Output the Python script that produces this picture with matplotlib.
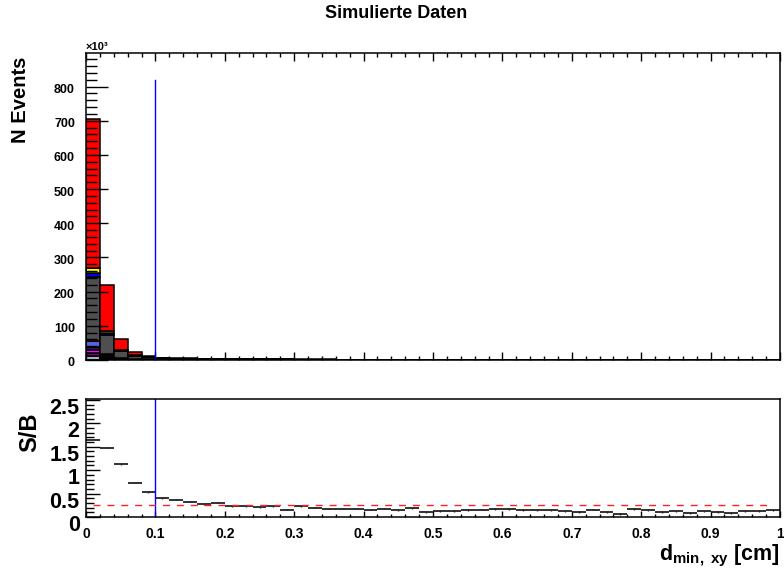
import matplotlib
matplotlib.use("Agg")
import matplotlib.pyplot as plt
import matplotlib.transforms as mtransforms
from matplotlib.ticker import MultipleLocator, FuncFormatter
import numpy as np

plt.rcParams["font.family"] = ["Liberation Sans", "DejaVu Sans"]
plt.rcParams["font.weight"] = "bold"
plt.rcParams["mathtext.fontset"] = "custom"
plt.rcParams["mathtext.rm"] = "Liberation Sans:bold"
plt.rcParams["mathtext.it"] = "Liberation Sans:bold"

# 50 bins of 0.02 cm from 0 to 1
bin_edges = [i * 0.02 for i in range(51)]

# stacked components in thousands of events, bottom to top
comp_teal = [12, 4, 2, 1, 0.5] + [0] * 45
comp_purple = [8, 3, 1, 0.5, 0.3] + [0] * 45
comp_magenta = [9, 3, 1, 0.5, 0.3] + [0] * 45
comp_navy = [10, 5, 2, 1, 0.5] + [0] * 45
comp_slate = [18, 2, 1, 0.5, 0.3] + [0] * 45
comp_gray = [185, 57, 19, 8, 5.5,
             5.0, 4.0, 3.3, 2.8, 2.2, 2.0, 1.8, 1.7, 1.6, 1.5,
             1.4, 1.3, 1.25, 1.2, 1.15, 1.1, 1.05, 1.0, 0.95, 0.9,
             0.9, 0.85, 0.8, 0.8, 0.75, 0.75, 0.7, 0.7, 0.68, 0.66,
             0.64, 0.62, 0.6, 0.6, 0.58, 0.56, 0.55, 0.54, 0.52, 0.5,
             0.5, 0.48, 0.47, 0.46, 0.45]
comp_blue = [12, 4, 1, 0.5, 0.3] + [0] * 45
comp_yellow = [14, 7, 3, 1.5, 0.7] + [0] * 45
comp_red = [437, 133, 32, 10, 4.5,
            2.1, 1.5, 1.1, 0.75, 0.65, 0.45, 0.42, 0.36, 0.36, 0.24,
            0.32, 0.26, 0.23, 0.22, 0.21, 0.18, 0.19, 0.15, 0.19, 0.10,
            0.12, 0.12, 0.13, 0.13, 0.14, 0.14, 0.12, 0.11, 0.11, 0.09,
            0.08, 0.11, 0.07, 0.04, 0.11, 0.09, 0.07, 0.07, 0.05, 0.07,
            0.06, 0.05, 0.07, 0.07, 0.07]

components = [comp_teal, comp_purple, comp_magenta, comp_navy, comp_slate,
              comp_gray, comp_blue, comp_yellow, comp_red]
colors = ["#9fb8b4", "#990099", "#ff00ff", "#1c1c5c", "#5f5fe0",
          "#4f4f4f", "#0000ff", "#ffff00", "#ff0000"]

# signal over background per bin
sb_ratio = [1.64, 1.48, 1.125, 0.736, 0.524, 0.40, 0.37, 0.33, 0.27, 0.30,
            0.23, 0.23, 0.21, 0.23, 0.16, 0.23, 0.20, 0.18, 0.18, 0.18,
            0.16, 0.18, 0.14, 0.19, 0.10, 0.13, 0.13, 0.15, 0.16, 0.17,
            0.17, 0.15, 0.14, 0.14, 0.12, 0.11, 0.16, 0.11, 0.06, 0.17,
            0.14, 0.11, 0.12, 0.085, 0.12, 0.11, 0.085, 0.13, 0.13, 0.15]
sb_err = [0.004, 0.005, 0.006, 0.008, 0.008, 0.008, 0.009, 0.009, 0.009, 0.01,
          0.01, 0.01, 0.01, 0.01, 0.01, 0.01, 0.01, 0.01, 0.012, 0.012,
          0.012, 0.012, 0.012, 0.012, 0.012, 0.013, 0.013, 0.013, 0.013, 0.013,
          0.014, 0.014, 0.014, 0.014, 0.014, 0.015, 0.015, 0.015, 0.015, 0.015,
          0.016, 0.016, 0.016, 0.016, 0.016, 0.017, 0.017, 0.017, 0.017, 0.017]

cut_value = 0.1
cut_line_top = 818
sb_threshold = 0.26

left_edges = np.array(bin_edges[:-1])
width = 0.02
centers = left_edges + width / 2

fig = plt.figure(figsize=(7.84, 5.74), dpi=100)
ax_top = fig.add_axes([86 / 784, 1 - 360 / 574, 694 / 784, 307 / 574])
ax_bot = fig.add_axes([86 / 784, 1 - 517 / 574, 694 / 784, 118 / 574])

bottom = np.zeros(len(left_edges))
for values, color in zip(components, colors):
    values = np.array(values, dtype=float)
    ax_top.bar(left_edges, values, width=width, bottom=bottom, align="edge",
               color=color, edgecolor="black", linewidth=1.1, zorder=1)
    bottom += values

ax_top.plot([cut_value, cut_value], [0, cut_line_top], color="blue", lw=1, zorder=2)
ax_top.set_xlim(0, 1)
ax_top.set_ylim(0, 898)
ax_top.xaxis.set_major_locator(MultipleLocator(0.1))
ax_top.xaxis.set_minor_locator(MultipleLocator(0.02))
ax_top.yaxis.set_major_locator(MultipleLocator(100))
ax_top.yaxis.set_minor_locator(MultipleLocator(20))
ax_top.tick_params(axis="x", which="both", direction="in", top=True, bottom=True,
                   labelbottom=False)
ax_top.tick_params(axis="x", which="major", length=5.5, width=1)
ax_top.tick_params(axis="x", which="minor", length=2.8, width=1)
ax_top.tick_params(axis="y", which="both", direction="in", left=True, right=False,
                   labelsize=9, pad=8)
ax_top.tick_params(axis="y", which="major", length=15.8, width=1)
ax_top.tick_params(axis="y", which="minor", length=7.9, width=1)

ax_bot.hlines(sb_ratio, left_edges, left_edges + width, color="#222222", lw=1.3)
ax_bot.vlines(centers, np.array(sb_ratio) - np.array(sb_err),
              np.array(sb_ratio) + np.array(sb_err), color="#222222", lw=1)
ax_bot.axvline(cut_value, color="blue", lw=1)
ax_bot.plot([0.01, 0.99], [sb_threshold, sb_threshold], color="#ff2020", lw=1,
            linestyle=(0, (5, 5)))
ax_bot.set_xlim(0, 1)
ax_bot.set_ylim(0, 2.52)
ax_bot.xaxis.set_major_locator(MultipleLocator(0.1))
ax_bot.xaxis.set_minor_locator(MultipleLocator(0.02))
ax_bot.yaxis.set_major_locator(MultipleLocator(0.5))
ax_bot.yaxis.set_minor_locator(MultipleLocator(0.1))
ax_bot.xaxis.set_major_formatter(FuncFormatter(lambda v, p: f"{v:g}"))
ax_bot.yaxis.set_major_formatter(FuncFormatter(lambda v, p: f"{v:g}"))
ax_bot.tick_params(axis="x", which="both", direction="in", top=False,
                   labelsize=10, pad=7)
ax_bot.tick_params(axis="x", which="major", length=4.5, width=1)
ax_bot.tick_params(axis="x", which="minor", length=2.3, width=1)
ax_bot.tick_params(axis="y", which="both", direction="in", right=False,
                   labelsize=15.5, pad=4.5)
ax_bot.tick_params(axis="y", which="major", length=10, width=1)
ax_bot.tick_params(axis="y", which="minor", length=5.8, width=1)

shift_bot = mtransforms.ScaledTranslation(0, -6 / 100, fig.dpi_scale_trans)
for label in ax_bot.get_yticklabels():
    label.set_transform(label.get_transform() + shift_bot)
shift_top = mtransforms.ScaledTranslation(0, -2 / 100, fig.dpi_scale_trans)
for label in ax_top.get_yticklabels():
    label.set_transform(label.get_transform() + shift_top)

for ax in (ax_top, ax_bot):
    for spine in ax.spines.values():
        spine.set_linewidth(1.1)

fig.text(396 / 784, 1 - 14 / 574, "Simulierte Daten", ha="center", va="center",
         fontsize=13, fontweight="bold")
fig.text(86 / 784, 1 - 47 / 574, "×10³", ha="left", va="center", fontsize=8,
         fontweight="bold")
fig.text(20 / 784, 1 - 100 / 574, "N Events", rotation=90, ha="center",
         va="center", fontsize=14.5, fontweight="bold")
fig.text(30 / 784, 1 - 432 / 574, "S/B", rotation=90, ha="center", va="center",
         fontsize=17, fontweight="bold")
fig.text(780 / 784, 1 - 560 / 574, r"d$_{\mathrm{min,\ xy}}$ [cm]", ha="right",
         va="baseline", fontsize=15.5, fontweight="bold")

fig.savefig("out.png", dpi=100)
